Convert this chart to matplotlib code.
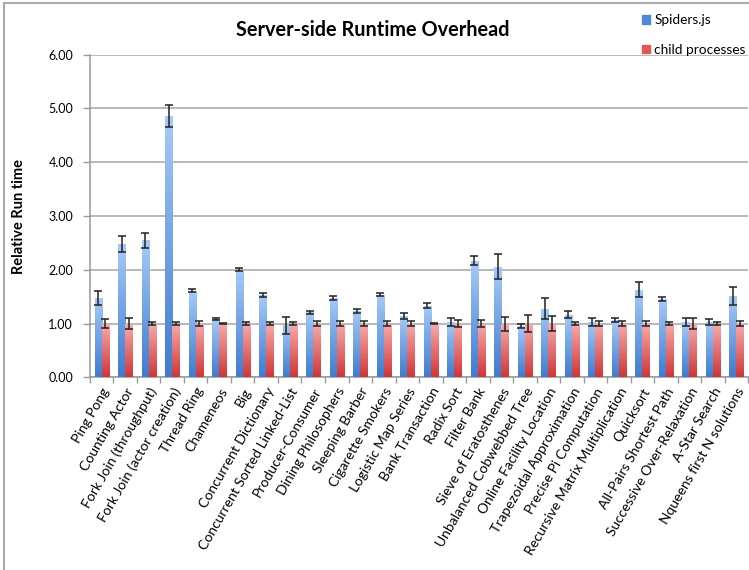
import matplotlib.pyplot as plt
import numpy as np
from matplotlib.colors import LinearSegmentedColormap
from matplotlib.patches import Patch, Rectangle

plt.rcParams['font.family'] = ['Lato', 'DejaVu Sans']

benchmarks = [
    'Ping Pong', 'Counting Actor', 'Fork Join (throughput)', 'Fork Join (actor creation)',
    'Thread Ring', 'Chameneos', 'Big', 'Concurrent Dictionary',
    'Concurrent Sorted Linked-List', 'Producer-Consumer', 'Dining Philosophers',
    'Sleeping Barber', 'Cigarette Smokers', 'Logistic Map Series', 'Bank Transaction',
    'Radix Sort', 'Filter Bank', 'Sieve of Eratosthenes', 'Unbalanced Cobwebbed Tree',
    'Online Facility Location', 'Trapezoidal Approximation', 'Precise Pi Computation',
    'Recursive Matrix Multiplication', 'Quicksort', 'All-Pairs Shortest Path',
    'Successive Over-Relaxation', 'A-Star Search', 'Nqueens first N solutions',
]
spiders = [1.47, 2.48, 2.55, 4.86, 1.61, 1.08, 2.00, 1.53, 0.97, 1.21, 1.48, 1.24, 1.54, 1.14,
           1.33, 1.03, 2.17, 2.06, 0.96, 1.28, 1.16, 1.03, 1.06, 1.63, 1.46, 1.03, 1.03, 1.51]
spiders_err = [0.13, 0.155, 0.14, 0.21, 0.03, 0.02, 0.03, 0.04, 0.16, 0.03, 0.04, 0.035, 0.03,
               0.05, 0.045, 0.075, 0.09, 0.24, 0.04, 0.19, 0.065, 0.07, 0.035, 0.145, 0.04,
               0.07, 0.06, 0.165]
child = [1.0] * 28
child_err = [0.09, 0.11, 0.03, 0.02, 0.04, 0.01, 0.02, 0.03, 0.02, 0.04, 0.04, 0.04, 0.04, 0.04,
             0.01, 0.07, 0.07, 0.13, 0.16, 0.14, 0.02, 0.04, 0.04, 0.04, 0.03, 0.10, 0.02, 0.04]

blue_map = LinearSegmentedColormap.from_list('blue', ['#3f7bd0', '#a6cbf8'])
red_map = LinearSegmentedColormap.from_list('red', ['#cf3636', '#f9abab'])

fig = plt.figure(figsize=(7.49, 5.70), dpi=100)
ax = fig.add_axes([0.120, 0.338, 0.879, 0.566])

x = np.arange(len(benchmarks))
w = 0.3
grad = np.linspace(0, 1, 256).reshape(-1, 1)


def gradient_bars(xs, vals, errs, cmap):
    bars = ax.bar(xs, vals, w, color='none', edgecolor='none', zorder=3)
    for b in bars:
        x0, y0 = b.get_x(), b.get_y()
        im = ax.imshow(grad, cmap=cmap, origin='lower', aspect='auto', zorder=3,
                       extent=[x0, x0 + b.get_width(), y0, y0 + b.get_height()])
        im.set_clip_path(b)
    ax.errorbar(xs, vals, yerr=errs, fmt='none', ecolor='#222222', elinewidth=1.1,
                capsize=3.2, capthick=1.1, zorder=4)


gradient_bars(x - w / 2, spiders, spiders_err, blue_map)
gradient_bars(x + w / 2, child, child_err, red_map)

ax.set_xlim(-0.5, len(benchmarks) - 0.5)
ax.set_ylim(0, 6)
ax.set_yticks(np.arange(0, 6.01, 1))
ax.set_yticklabels([f'{v:.2f}' for v in np.arange(0, 6.01, 1)], fontsize=9)
ax.yaxis.grid(True, color='#b3b3b3', linewidth=1.3)
ax.set_axisbelow(True)

ax.set_xticks(x)
ax.set_xticklabels(benchmarks, rotation=60, ha='right', rotation_mode='anchor', fontsize=10)
ax.set_xticks(np.arange(-0.5, len(benchmarks)), minor=True)
ax.tick_params(axis='x', which='major', length=0, pad=6)
ax.tick_params(axis='x', which='minor', length=4, color='#999999', width=1)
ax.tick_params(axis='y', length=5, color='#999999', width=1, pad=7)

for side in ['top', 'right']:
    ax.spines[side].set_visible(False)
for side in ['left', 'bottom']:
    ax.spines[side].set_color('#999999')
    ax.spines[side].set_linewidth(1.1)

ax.set_ylabel('Relative Run time', fontsize=10.5, fontweight='bold', labelpad=16)
fig.text(0.498, 0.947, 'Server-side Runtime Overhead', ha='center', va='center',
         fontsize=14.3, fontweight='bold')

handles = [Patch(color='#4f8ad8', label='Spiders.js'), Patch(color='#e05858', label='child processes')]
fig.legend(handles=handles, loc='upper left', bbox_to_anchor=(0.850, 0.985), frameon=False,
           fontsize=9.8, handlelength=0.6, handleheight=0.6, handletextpad=0.3,
           labelspacing=1.3, borderaxespad=0)

# outer chart frame
fig.patches.append(Rectangle((4 / 749, -0.1), 1.2, 1.1 - 3 / 570, transform=fig.transFigure,
                             fill=False, edgecolor='#aaaaaa', linewidth=1.5))

fig.savefig('out.png', dpi=100)
